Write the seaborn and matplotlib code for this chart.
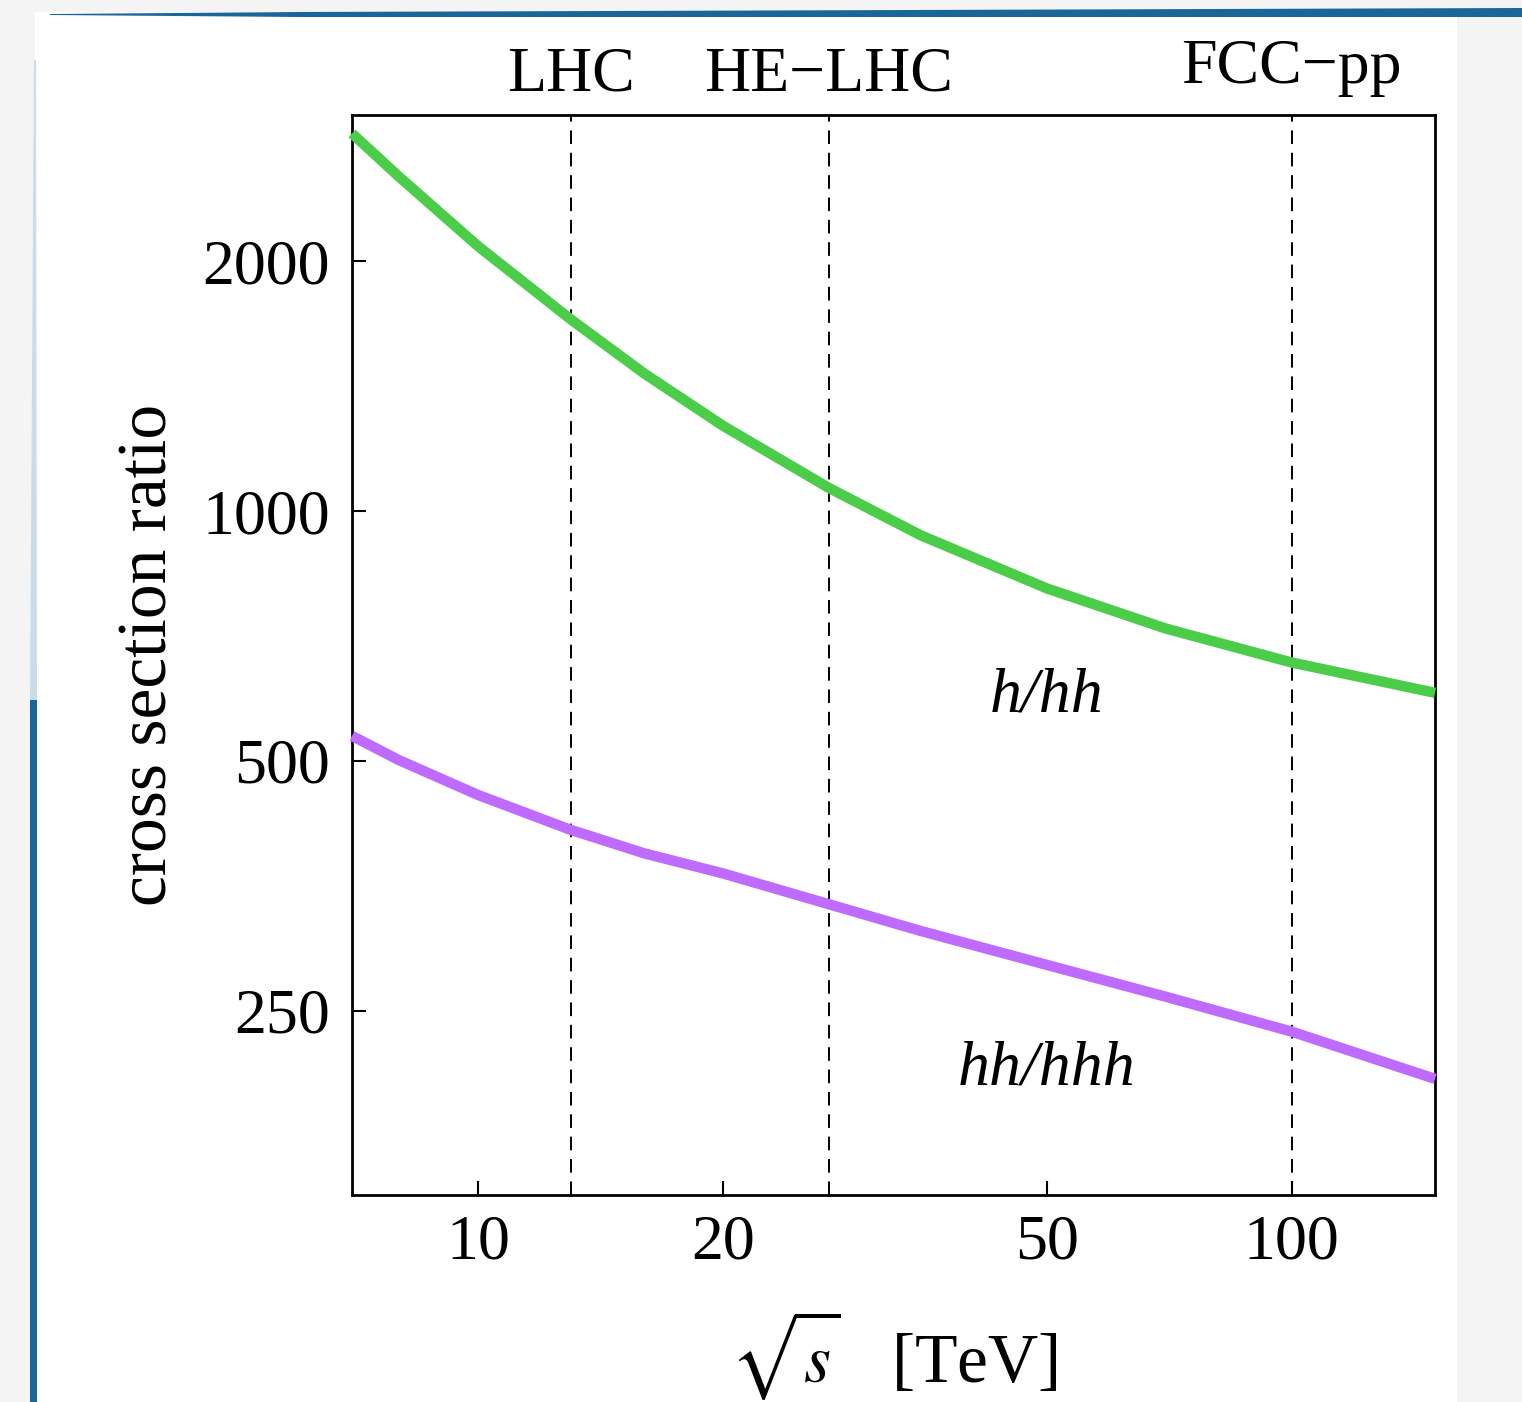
import numpy as np
import pandas as pd
import matplotlib
matplotlib.use("Agg")
import matplotlib.pyplot as plt
from matplotlib.patches import Rectangle, Polygon
from matplotlib.ticker import FixedLocator, FixedFormatter, NullLocator
import seaborn as sns

# ---------------- data ----------------
energy_tev = [7, 8, 10, 13, 16, 20, 27, 35, 50, 70, 100, 150]
ratio_h_hh = [2850, 2527, 2085, 1702, 1465, 1267, 1066, 935, 807, 722, 657, 604]
ratio_hh_hhh = [536, 501, 455, 413, 387, 366, 336, 312, 284, 260, 236, 207]

colliders = ["LHC", "HE\u2212LHC", "FCC\u2212pp"]
collider_energy = [13, 27, 100]

x_ticks = [10, 20, 50, 100]
x_ticklabels = ["10", "20", "50", "100"]
y_ticks = [250, 500, 1000, 2000]
y_ticklabels = ["250", "500", "1000", "2000"]

curve_labels = ["h/hh", "hh/hhh"]
curve_label_pos = [(50, 573), (50, 204)]

# ---------------- style ----------------
sns.set_theme(style="white")
plt.rcParams["font.family"] = ["Liberation Serif", "DejaVu Serif"]
plt.rcParams["mathtext.fontset"] = "stix"

W, H, DPI = 1522, 1402, 100
fig = plt.figure(figsize=(W / DPI, H / DPI), dpi=DPI)
fig.patch.set_facecolor("#f4f4f4")

def fx(px):
    return px / W

def fy(py):
    return 1 - py / H

# slide decoration: white panel, blue top rule, blue left rule
fig.patches.append(Rectangle((fx(35), 0), fx(1457) - fx(35), fy(12), transform=fig.transFigure,
                             facecolor="white", edgecolor="none", zorder=-3))
fig.patches.append(Polygon([(fx(50), fy(14)), (fx(300), fy(12)), (fx(1522), fy(8)),
                            (fx(1522), fy(17)), (fx(300), fy(17)), (fx(50), fy(15))],
                           closed=True, transform=fig.transFigure, facecolor="#1a6699",
                           edgecolor="none", zorder=-2))
fig.patches.append(Polygon([(fx(34), fy(60)), (fx(36), fy(60)), (fx(37), fy(700)), (fx(30), fy(700))],
                           closed=True, transform=fig.transFigure, facecolor="#c9dcea",
                           edgecolor="none", zorder=-2))
fig.patches.append(Polygon([(fx(30), fy(700)), (fx(37), fy(700)), (fx(37), fy(1402)), (fx(30), fy(1402))],
                           closed=True, transform=fig.transFigure, facecolor="#1a6699",
                           edgecolor="none", zorder=-2))

ax = fig.add_axes([352 / W, (H - 1195) / H, (1435 - 352) / W, (1195 - 115) / H])
ax.set_zorder(1)
ax.set_facecolor("white")

df = pd.DataFrame({
    "energy": energy_tev * 2,
    "ratio": ratio_h_hh + ratio_hh_hhh,
    "curve": [curve_labels[0]] * len(energy_tev) + [curve_labels[1]] * len(energy_tev),
})
sns.lineplot(data=df, x="energy", y="ratio", hue="curve",
             palette={curve_labels[0]: "#4ccd4a", curve_labels[1]: "#bf6bff"},
             linewidth=7.5, legend=False, ax=ax, estimator=None, sort=True)
for ln in ax.get_lines():
    ln.set_clip_on(False)
    ln.set_solid_capstyle("butt")
    ln.set_solid_joinstyle("round")
    ln.set_zorder(3)

ax.set_xscale("log")
ax.set_yscale("log")
ax.set_xlim(7, 150)
ax.set_ylim(150, 3000)

for name, e in zip(colliders, collider_energy):
    ax.axvline(e, color="black", lw=1.4, dashes=(7, 4.5), zorder=2)
    yoff = 1.0296 if name.startswith("FCC") else 1.023
    ax.text(e, yoff, name, transform=ax.get_xaxis_transform(), ha="center", va="baseline",
            fontsize=46, color="black")

for lab, (xp, yp) in zip(curve_labels, curve_label_pos):
    ax.text(xp, yp, lab, ha="center", va="baseline", fontsize=46, fontstyle="italic", color="black")

ax.xaxis.set_major_locator(FixedLocator(x_ticks))
ax.xaxis.set_major_formatter(FixedFormatter(x_ticklabels))
ax.xaxis.set_minor_locator(NullLocator())
ax.yaxis.set_major_locator(FixedLocator(y_ticks))
ax.yaxis.set_major_formatter(FixedFormatter(y_ticklabels))
ax.yaxis.set_minor_locator(NullLocator())

ax.tick_params(axis="both", which="major", direction="in", length=10, width=1.5,
               labelsize=46, colors="black", bottom=True, left=True, top=False, right=False)
ax.tick_params(axis="x", pad=14)
ax.tick_params(axis="y", pad=16)

for sp in ax.spines.values():
    sp.set_visible(True)
    sp.set_color("black")
    sp.set_linewidth(2.0)

ax.set_xlabel(r"$\sqrt{s}$   [TeV]", fontsize=50, color="black")
ax.xaxis.set_label_coords(0.5, -0.105)
ax.set_ylabel("cross section ratio", fontsize=50, color="black")
ax.yaxis.set_label_coords(-0.157, 0.5)

fig.savefig("out.png", dpi=DPI, facecolor=fig.get_facecolor())
